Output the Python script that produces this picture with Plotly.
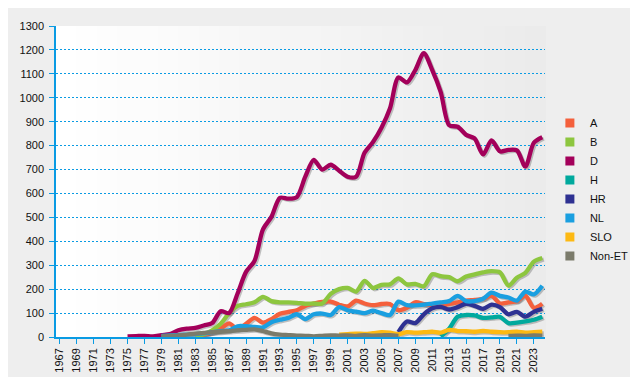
import plotly.graph_objects as go

years = list(range(1975, 2025))

series_names = ["A", "B", "D", "H", "HR", "NL", "SLO", "Non-ET"]
series_colors = ["#f4603c", "#8dc63f", "#a3005a", "#00a99d", "#2e3192", "#1a9fe0", "#fdb913", "#7b7b6b"]

N = None
A = [N]*8 + [5, 10, 20, 35, 57, 33, 55, 80, 60, 75, 97, 105, 112, 130, 140, 147, 148, 135, 128, 152,
             140, 133, 138, 138, 112, 122, 145, 138, 132, 130, 138, 145, 152, 155, 160, 172, 140, 145, 150, 172,
             122, 139]
B = [N]*8 + [5, 12, 28, 55, 100, 130, 137, 145, 168, 150, 145, 145, 143, 139, 140, 140, 180, 200, 205, 190,
             235, 205, 218, 220, 245, 220, 222, 212, 262, 254, 250, 233, 253, 262, 270, 275, 270, 215, 248, 268,
             315, 330]
D = [3, 4, 5, 3, 8, 12, 28, 35, 38, 48,
     58, 108, 100, 182, 272, 318, 450, 502, 582, 578,
     585, 670, 740, 700, 720, 695, 670, 670, 770, 815,
     875, 955, 1085, 1064, 1116, 1186, 1116, 1024, 885, 879,
     845, 830, 763, 822, 776, 782, 780, 712, 812, 835]
H = [N]*37 + [2, 35, 85, 92, 90, 80, 82, 84, 58, 60, 65, 72, 85]
HR = [N]*32 + [20, 65, 58, 95, 120, 126, 115, 125, 139, 130, 118, 135, 125, 95, 105, 85, 105, 118]
NL = [N]*4 + [5, 7, 8, 10, 12, 15, 20, 25, 28, 45, 45, 42, 40, 62, 72, 80, 95, 75, 95, 98, 92, 125, 112, 106,
              100, 110, 100, 92, 148, 133, 132, 135, 140, 145, 150, 172, 150, 150, 160, 185, 172, 165, 152, 190,
              178, 214]
SLO = [N]*25 + [10, 12, 14, 13, 16, 20, 18, 12, 20, 18, 20, 22, 18, 30, 25, 24, 22, 25, 22, 20, 20, 22, 18, 20, 22]
NonET = [N]*4 + [3, 5, 7, 10, 14, 17, 20, 22, 25, 28, 30, 32, 25, 15, 10, 8, 6, 5, 3, 5, 7, 6, 7, 5, 8, 6, 7, 8, 5] \
        + [N]*12 + [5, 6, 5, 7, 6]

data = [A, B, D, H, HR, NL, SLO, NonET]

x_tick_years = list(range(1967, 2024, 2))
y_ticks = list(range(0, 1301, 100))

AXIS_BLUE = "#0a9be3"

fig = go.Figure()

# shadows
for vals in data:
    xs = [y + 0.18 for y in years]
    ys = [None if v is None else v - 6 for v in vals]
    fig.add_trace(go.Scatter(x=xs, y=ys, mode="lines", showlegend=False, hoverinfo="skip",
                             line=dict(color="rgba(90,90,90,0.35)", width=4, shape="spline", smoothing=0.8),
                             connectgaps=False))

for name, color, vals in zip(series_names, series_colors, data):
    fig.add_trace(go.Scatter(x=years, y=vals, mode="lines", name=name, showlegend=False,
                             line=dict(color=color, width=4.3, shape="spline", smoothing=0.8),
                             connectgaps=False))

# legend entries as squares
for name, color in zip(series_names, series_colors):
    fig.add_trace(go.Scatter(x=[None], y=[None], mode="markers", name=name,
                             marker=dict(symbol="square", size=9, color=color)))

# background gradient
nstrip = 24
for i in range(nstrip):
    t = i / (nstrip - 1)
    c = int(round(255 - t * 20))
    fig.add_shape(type="rect", xref="x domain", yref="y domain",
                  x0=i / nstrip, x1=(i + 1) / nstrip + 0.002, y0=0, y1=1,
                  fillcolor=f"rgb({c},{c},{c})", line=dict(width=0), layer="below")

fig.update_layout(
    width=638, height=377,
    margin=dict(l=42, r=87, t=12, b=37),
    paper_bgcolor="#eeeeee",
    plot_bgcolor="#f8f8f8",
    font=dict(family="Liberation Sans, Arial, sans-serif", size=11, color="#111111"),
    legend=dict(x=1.01, xanchor="left", y=0.735, yanchor="top", bgcolor="rgba(0,0,0,0)",
                font=dict(size=11, color="#111111"), itemwidth=30, tracegroupgap=0),
    showlegend=True,
)

fig.update_xaxes(range=[1966.55, 2024.32], tickmode="array", tickvals=x_tick_years,
                 ticktext=[str(y) for y in x_tick_years], tickangle=-90,
                 ticks="outside", ticklen=5, tickcolor=AXIS_BLUE, showline=True,
                 linecolor=AXIS_BLUE, linewidth=1.5, showgrid=False, zeroline=False,
                 tickfont=dict(size=11))
fig.update_yaxes(range=[0, 1300], tickmode="array", tickvals=y_ticks,
                 ticks="outside", ticklen=5, tickcolor=AXIS_BLUE, showline=True,
                 linecolor=AXIS_BLUE, linewidth=1.5, showgrid=True, gridcolor=AXIS_BLUE,
                 griddash="2px,2px", gridwidth=1, zeroline=False, tickfont=dict(size=11),
                 ticklabelstandoff=3)

fig.write_html("out.html")
